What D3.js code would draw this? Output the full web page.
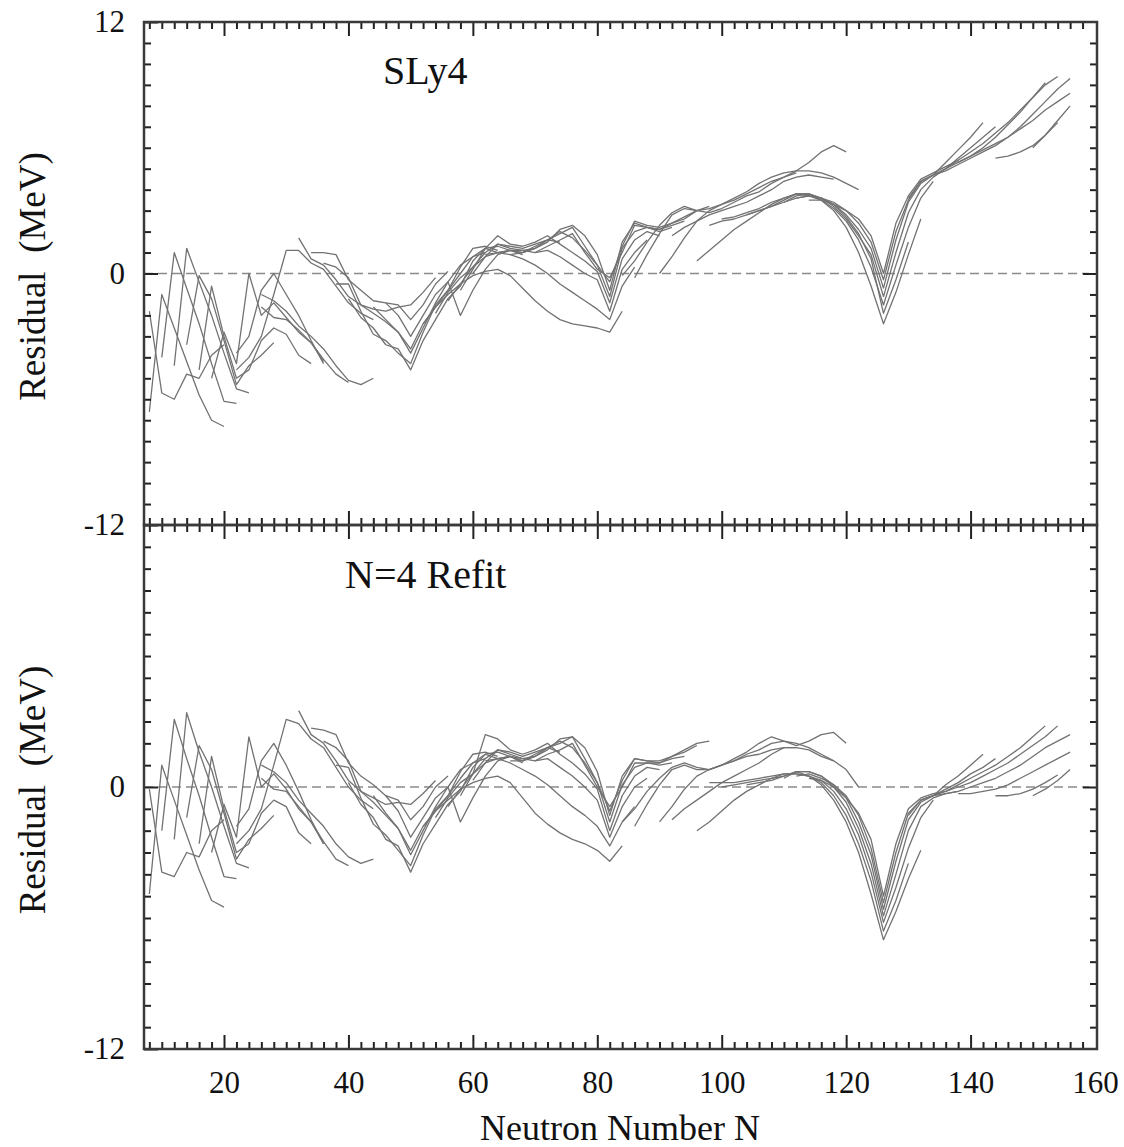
<!DOCTYPE html>
<html><head><meta charset="utf-8">
<script src="https://cdn.jsdelivr.net/npm/d3@7"></script>
<style>
body{margin:0;background:#fff}
text{font-family:'Liberation Serif','Times New Roman',serif;fill:#111}
</style></head>
<body><svg id="c" width="1124" height="1147"></svg>
<script>
// ---- tick labels / titles ----
const xMajorTicks = [20,40,60,80,100,120,140,160];
const topYLabels = [-12,0,12];
const bottomYLabels = [-12,0];
const panelTitles = ["SLy4","N=4 Refit"];
const xTitle = "Neutron Number N";
const yTitle = "Residual  (MeV)";

// ---- data: each chain = [first N, residuals at N, N+2, N+4, ...] ----
const sly4Chains = [
 [8,[-1.8,-5.7,-6.0,-4.8,-5.0,-3.9,-3.4]],
 [8,[-6.6,-1.0,-2.6,-4.2,-5.8,-7.0,-7.3]],
 [10,[-4.0,1.0,-0.7,-2.4,-4.3,-6.1,-6.2]],
 [12,[-4.4,1.2,-0.4,-2.0,-3.8,-5.5,-5.7]],
 [14,[-3.4,-0.1,-1.2,-3.2,-5.3,-4.4,-3.9,-3.3]],
 [16,[-4.6,-0.6,-3.0,-5.0,-4.6,-3.2,-2.6,-2.9,-3.9,-4.3]],
 [18,[-5.0,-2.8,-4.3,0.0,-2.0,-1.4,-2.1,-2.8,-3.3,-4.2]],
 [22,[-4.6,-4.0,-3.0,-1.0,1.1,1.1,0.5,0.2,-0.6,-1.4,-1.9,-2.2]],
 [22,[-3.8,-3.0,-0.8,0.0,-1.0,-2.0,-3.2,-4.3]],
 [26,[-1.0,-1.3,-1.8,-2.5,-3.0,-3.6,-4.4,-5.1,-5.3,-5.0]],
 [26,[-1.6,-2.1,-2.2,-2.7,-3.3,-4.1,-4.8,-5.2]],
 [32,[1.7,0.7,0.4,-0.3,-1.1,-1.5,-1.7,-1.8,-1.6,-1.5,-0.9,-0.2]],
 [34,[1.0,1.0,0.9,-0.3,-0.8,-1.3,-1.4,-1.5,-2.2,-1.5,-0.5,0.1]],
 [36,[0.5,0.3,-0.2,-1.5,-1.9,-2.3,-2.8,-3.6,-2.4,-1.6,-0.8,0.0,0.8,1.0]],
 [38,[-0.5,-0.5,-1.8,-2.9,-3.2,-3.8,-4.3,-2.8,-1.5,-0.8,0.3,1.2,1.3,1.1]],
 [40,[-1.2,-2.1,-2.6,-3.4,-3.6,-4.6,-3.2,-2.2,-1.2,-0.6,0.6,1.2,1.0,1.1,0.9]],
 [44,[-1.6,-2.2,-2.8,-3.8,-2.6,-1.4,-0.4,0.4,0.8,1.2,1.3,1.1,1.0,1.2]],
 [46,[-1.4,-2.0,-3.0,-2.0,-1.0,-0.4,-2.0,-0.8,0.2,0.9,1.1,1.0,1.3,1.6,1.5]],
 [52,[-2.4,-1.6,-1.0,-0.5,-0.1,0.1,0.2,-0.1,-0.7,-1.3,-1.8,-2.2,-2.4,-2.5,-2.6,-2.8,-1.8]],
 [54,[-1.9,-0.9,-0.2,0.3,0.8,1.0,0.9,0.7,0.4,0.0,-0.5,-0.9,-1.3,-1.7,-2.2,-0.6,0.3]],
 [56,[-1.3,-0.5,0.3,1.0,1.4,1.2,1.1,1.0,1.1,0.8,0.4,0.0,-0.3,-1.8,0.2,1.0,1.6]],
 [58,[-0.8,0.2,1.2,1.8,1.4,1.3,1.5,1.8,1.4,1.0,0.6,0.1,-1.4,0.7,1.6,2.0,1.8]],
 [60,[0.0,0.8,1.4,1.3,1.2,1.4,1.6,2.0,1.7,1.1,0.4,-1.1,1.2,2.0,2.2,2.0,2.2]],
 [62,[0.9,1.0,1.1,1.1,1.2,1.5,2.1,2.3,1.8,0.9,-0.8,1.5,2.4,2.2,2.1,2.3,2.5]],
 [66,[0.9,1.0,1.2,1.6,1.9,2.2,1.3,0.4,-0.4,1.3,2.5,2.3,2.2,2.4,2.6,3.0]],
 [70,[1.0,1.3,1.6,1.9,1.0,0.2,-0.2,1.0,2.3,2.2,2.1,2.4,2.7,3.0,3.2]],
 [84,[-0.1,0.6,1.5,2.3,2.9,3.2,3.0,2.9,3.1,3.4,3.7,3.9,4.3,4.6,4.8]],
 [86,[-0.2,0.9,1.9,2.8,3.1,3.0,3.1,3.3,3.5,3.8,4.1,4.4,4.6,4.9,5.3,5.8,6.1,5.8]],
 [90,[0.0,0.8,1.7,2.5,3.0,3.3,3.6,3.9,4.3,4.6,4.8,4.9,4.9,4.8,4.6,4.3,4.0]],
 [92,[1.8,2.2,2.5,2.8,3.0,3.2,3.4,3.7,4.0,4.4,4.6,4.7,4.6,4.5]],
 [96,[0.6,1.1,1.6,2.1,2.5,2.9,3.3,3.6,3.8,3.8,3.5,3.0,2.2,1.0,-0.6,-2.4,-0.9,0.9,2.6]],
 [98,[2.3,2.5,2.6,2.8,3.0,3.2,3.4,3.6,3.7,3.6,3.3,2.7,1.9,0.7,-1.9,-0.3,1.5]],
 [100,[2.6,2.7,2.9,3.1,3.4,3.6,3.8,3.7,3.5,3.1,2.5,1.6,0.3,-1.5,0.4,2.2,3.6,4.4]],
 [104,[2.8,3.0,3.2,3.5,3.8,3.8,3.6,3.2,2.6,1.8,0.9,-1.1,1.0,2.9,4.0,4.6,5.0,5.4]],
 [110,[3.4,3.7,3.8,3.6,3.3,2.8,2.1,1.2,-0.7,1.6,3.4,4.3,4.7,5.3,5.9,6.5,7.2]],
 [112,[3.6,3.7,3.6,3.4,3.0,2.4,1.5,-0.3,2.0,3.5,4.4,4.7,5.0,5.5,6.0,6.5,7.0]],
 [114,[3.5,3.5,3.3,3.0,2.6,1.8,0.0,2.4,3.7,4.5,4.8,5.1,5.4,5.8,6.2,6.7,7.2,7.8,8.4,9.0,9.4]],
 [130,[3.6,4.4,4.7,5.0,5.3,5.6,6.0,6.5,7.1,7.7,8.4,9.1]],
 [132,[4.4,4.7,4.9,5.2,5.5,5.8,6.1,6.5,7.0,7.6,8.2,8.8,9.3]],
 [138,[5.3,5.6,5.9,6.2,6.5,6.9,7.3,7.8,8.2,8.6]],
 [144,[5.5,5.6,5.8,6.1,6.6,7.2]],
 [150,[6.0,6.6,7.3,8.0]]
];

const refitChains = [
 [8,[-0.1,-3.9,-4.1,-3.0,-3.2,-2.0,-1.5]],
 [8,[-4.9,1.0,-0.6,-2.2,-3.8,-5.2,-5.5]],
 [10,[-2.0,3.1,1.3,-0.4,-2.3,-4.1,-4.2]],
 [12,[-2.4,3.4,1.6,0.0,-1.8,-3.5,-3.7]],
 [14,[-1.4,1.9,0.8,-1.2,-3.3,-2.4,-1.9,-1.3]],
 [16,[-2.6,1.4,-1.0,-3.0,-2.6,-1.2,-0.6,-0.9,-2.1,-2.6]],
 [18,[-3.0,-0.8,-2.3,2.3,0.0,0.6,-0.1,-1.0,-1.6,-2.6]],
 [22,[-2.6,-2.0,-1.0,1.0,3.1,2.9,2.2,1.8,0.9,0.0,-0.6,-1.0]],
 [22,[-1.8,-1.0,1.2,2.0,1.0,-0.2,-1.5,-2.6]],
 [26,[1.0,0.7,0.2,-0.6,-1.2,-1.8,-2.6,-3.2,-3.5,-3.3]],
 [26,[0.4,-0.1,-0.2,-0.9,-1.6,-2.5,-3.3,-3.6]],
 [32,[3.5,2.4,2.0,1.2,0.3,-0.2,-0.5,-0.8,-0.7,-0.8,-0.3,0.3]],
 [34,[2.7,2.6,2.4,1.1,0.5,0.1,-0.4,-0.6,-1.5,-0.9,0.0,0.5]],
 [36,[2.1,1.8,1.2,-0.2,-0.7,-1.3,-1.9,-2.9,-1.8,-1.1,-0.4,0.4,1.1,1.3]],
 [38,[1.0,0.9,-0.5,-1.7,-2.2,-2.9,-3.6,-2.2,-1.0,-0.4,0.7,1.5,1.6,1.4]],
 [40,[0.2,-0.8,-1.4,-2.4,-2.7,-3.9,-2.6,-1.7,-0.8,-0.2,0.9,1.5,1.3,1.4,1.1]],
 [44,[-0.4,-1.2,-1.9,-3.1,-2.0,-0.9,0.0,0.8,1.1,1.5,1.6,1.4,1.2,1.4]],
 [46,[-0.4,-1.1,-2.3,-1.4,-0.5,0.0,-1.6,-0.5,0.5,1.2,1.4,1.2,1.5,1.8,1.6]],
 [52,[-1.8,-1.1,-0.6,-0.1,0.2,0.4,0.5,0.2,-0.5,-1.2,-1.7,-2.1,-2.4,-2.6,-2.9,-3.4,-2.7]],
 [54,[-1.4,-0.5,0.2,0.6,1.1,1.3,1.1,0.8,0.5,0.1,-0.4,-0.9,-1.3,-1.8,-2.7,-1.6,-0.9]],
 [56,[-0.9,-0.1,0.6,1.3,1.7,1.5,1.3,1.2,1.3,0.9,0.5,0.0,-0.6,-2.3,-0.9,0.0,0.4]],
 [58,[-0.4,0.6,2.4,2.2,1.7,1.5,1.7,2.0,1.5,1.1,0.6,-0.1,-2.0,-0.4,0.5,0.9,0.8]],
 [60,[0.3,1.1,1.7,1.6,1.4,1.6,1.8,2.1,1.8,1.1,0.2,-1.6,0.1,0.9,1.1,1.0,1.1]],
 [62,[1.2,1.3,1.4,1.3,1.4,1.7,2.2,2.3,1.8,0.7,-1.3,0.5,1.3,1.2,1.1,1.3,1.4]],
 [66,[1.2,1.2,1.4,1.8,2.0,2.3,1.3,0.2,-1.1,0.3,1.3,1.2,1.2,1.4,1.6,1.9]],
 [70,[1.2,1.5,1.7,2.0,1.0,0.0,-0.9,0.0,1.1,1.1,1.1,1.4,1.7,2.0,2.1]],
 [84,[-1.6,-1.0,-0.2,0.4,0.9,1.1,0.9,0.8,1.0,1.2,1.4,1.5,1.7,1.8,1.8]],
 [86,[-1.8,-0.8,0.1,0.8,1.0,0.8,0.8,1.0,1.3,1.6,2.0,2.3,2.1,1.9,2.1,2.4,2.5,2.0]],
 [90,[-1.6,-0.9,-0.1,0.5,0.8,1.0,1.2,1.5,1.7,2.0,2.1,2.0,1.8,1.5,1.2,0.8,0.0]],
 [92,[-1.5,-1.0,-0.6,-0.2,0.2,0.5,0.8,1.1,1.5,1.8,1.8,1.7,1.4,1.2]],
 [96,[-2.0,-1.6,-1.1,-0.6,-0.2,0.1,0.4,0.6,0.6,0.5,0.1,-0.6,-1.6,-3.0,-4.9,-7.0,-5.7,-4.2,-2.9]],
 [98,[0.2,0.2,0.2,0.3,0.4,0.5,0.6,0.6,0.5,0.2,-0.4,-1.3,-2.6,-4.3,-6.6,-5.2,-3.5]],
 [100,[0.0,0.1,0.2,0.3,0.4,0.5,0.7,0.5,0.3,-0.2,-1.0,-2.2,-3.9,-6.2,-4.6,-2.8,-1.4,-0.6]],
 [104,[0.1,0.2,0.3,0.5,0.7,0.7,0.5,0.0,-0.7,-1.9,-3.5,-5.9,-4.0,-2.0,-0.9,-0.5,-0.3,-0.2]],
 [110,[0.4,0.7,0.7,0.5,0.1,-0.5,-1.6,-3.1,-5.6,-3.4,-1.5,-0.7,-0.4,0.1,0.5,1.0,1.5]],
 [112,[0.5,0.6,0.4,0.1,-0.4,-1.3,-2.8,-5.3,-3.0,-1.2,-0.6,-0.4,-0.1,0.2,0.6,0.9,1.3]],
 [114,[0.4,0.3,0.0,-0.5,-1.2,-2.4,-5.0,-2.6,-1.0,-0.5,-0.3,-0.2,0.0,0.2,0.5,0.8,1.1,1.5,1.9,2.3,2.8]],
 [130,[-1.3,-0.6,-0.4,-0.2,0.1,0.4,0.7,1.0,1.4,1.8,2.3,2.8]],
 [132,[-0.6,-0.4,-0.3,-0.2,0.0,0.2,0.4,0.7,1.0,1.4,1.8,2.1,2.4]],
 [138,[-0.3,-0.3,-0.2,-0.1,0.1,0.4,0.7,1.0,1.3,1.6]],
 [144,[-0.4,-0.4,-0.3,-0.1,0.2,0.55]],
 [150,[-0.4,-0.1,0.3,0.8]]
];

// ---- layout ----
const L = 144, R = 1097;
const svg = d3.select("#c");
svg.append("rect").attr("width",1124).attr("height",1147).attr("fill","#fff");
const x = d3.scaleLinear().domain([7.14,160.32]).range([L,R]);
const xMinor = d3.range(8,161,2);
const yMinor = d3.range(-11,12,1);
const FONT = "'Liberation Serif','Times New Roman',serif";
const AX = "#222";

const panels = [
  {top:22, bottom:525, chains:sly4Chains, title:panelTitles[0], tx:383, ty:84, labels:topYLabels, xlab:false},
  {top:525, bottom:1049, chains:refitChains, title:panelTitles[1], tx:345, ty:588, labels:bottomYLabels, xlab:true}
];

function styleAxis(g){
  g.select(".domain").remove();
  g.selectAll(".tick line").attr("stroke",AX).attr("stroke-width",2);
  g.attr("font-family",FONT).attr("font-size",31);
  g.selectAll(".tick text").attr("fill","#111");
}

panels.forEach(p=>{
  const y = d3.scaleLinear().domain([-12,12]).range([p.bottom,p.top]);
  const g = svg.append("g");
  // zero line
  g.append("line").attr("x1",L).attr("x2",R-8).attr("y1",y(0)).attr("y2",y(0))
    .attr("stroke","#8a8a8a").attr("stroke-width",1.6).attr("stroke-dasharray","9,5");
  // chains
  const line = d3.line().x(d=>x(d[0])).y(d=>y(d[1]));
  p.chains.forEach(([n0,vals])=>{
    g.append("path").datum(vals.map((v,i)=>[n0+2*i,v]))
      .attr("d",line).attr("fill","none").attr("stroke","#727272")
      .attr("stroke-width",1.3).attr("stroke-linejoin","round");
  });
  // left
  g.append("g").attr("transform",`translate(${L},0)`)
    .call(d3.axisLeft(y).tickValues(yMinor.filter(v=>v!==0)).tickSize(-7).tickFormat("")).call(styleAxis);
  g.append("g").attr("transform",`translate(${L},0)`)
    .call(d3.axisLeft(y).tickValues(p.labels).tickSize(-14).tickPadding(19).tickFormat(d=>String(d))).call(styleAxis);
  // right
  g.append("g").attr("transform",`translate(${R},0)`)
    .call(d3.axisRight(y).tickValues(yMinor.filter(v=>v!==0)).tickSize(-7).tickFormat("")).call(styleAxis);
  g.append("g").attr("transform",`translate(${R},0)`)
    .call(d3.axisRight(y).tickValues([0]).tickSize(-14).tickFormat("")).call(styleAxis);
  // top edge
  g.append("g").attr("transform",`translate(0,${p.top})`)
    .call(d3.axisTop(x).tickValues(xMinor.filter(v=>v%20!==0)).tickSize(-7).tickFormat("")).call(styleAxis);
  g.append("g").attr("transform",`translate(0,${p.top})`)
    .call(d3.axisTop(x).tickValues(xMajorTicks.filter(v=>v<160)).tickSize(-14).tickFormat("")).call(styleAxis);
  // bottom edge
  g.append("g").attr("transform",`translate(0,${p.bottom})`)
    .call(d3.axisBottom(x).tickValues(xMinor.filter(v=>v%20!==0)).tickSize(-7).tickFormat("")).call(styleAxis);
  g.append("g").attr("transform",`translate(0,${p.bottom})`)
    .call(d3.axisBottom(x).tickValues(p.xlab?xMajorTicks:xMajorTicks.filter(v=>v<160)).tickSize(-14).tickPadding(22)
      .tickFormat(p.xlab?(d=>String(d)):"")).call(styleAxis);
  if(p.xlab) g.selectAll(".tick line").filter(d=>d===160).attr("stroke","none");
  // frame
  g.append("rect").attr("x",L).attr("y",p.top).attr("width",R-L).attr("height",p.bottom-p.top)
    .attr("fill","none").attr("stroke","#3a3a3a").attr("stroke-width",2.5);
  // title
  g.append("text").attr("x",p.tx).attr("y",p.ty).attr("font-size",40).text(p.title);
  // y title
  const cy = (p.top+p.bottom)/2 + 3;
  g.append("text").attr("transform",`translate(45,${cy}) rotate(-90)`)
    .attr("text-anchor","middle").attr("font-size",37).style("white-space","pre").text(yTitle);
});

svg.append("text").attr("x",620).attr("y",1140).attr("text-anchor","middle")
  .attr("font-size",36).text(xTitle);
</script>
</body></html>
